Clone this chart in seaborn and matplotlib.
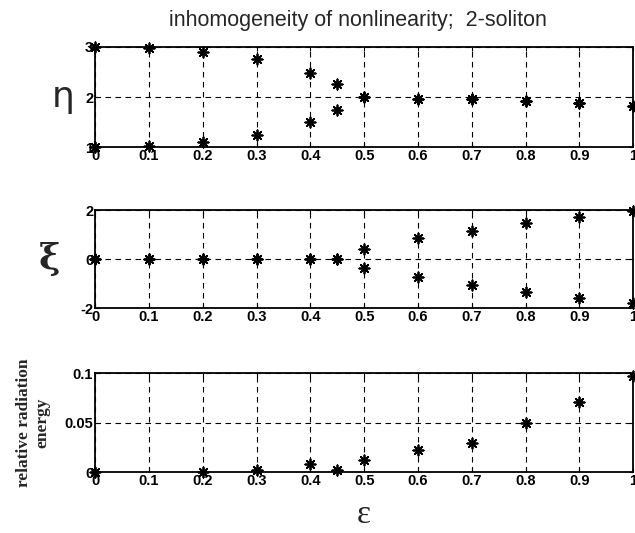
import numpy as np
import pandas as pd
import matplotlib
matplotlib.use("Agg")
import matplotlib.pyplot as plt
import seaborn as sns

# ---- data ----
eps = [0, 0.1, 0.2, 0.3, 0.4, 0.45, 0.5, 0.6, 0.7, 0.8, 0.9, 1.0]
eta_1 = [3.0, 2.98, 2.9, 2.75, 2.48, 2.25, 2.0, 1.97, 1.96, 1.92, 1.88, 1.83]
eta_2 = [1.0, 1.02, 1.1, 1.25, 1.5, 1.75, 2.0, 1.97, 1.96, 1.92, 1.88, 1.83]
xi_1 = [0, 0, 0, 0, 0, 0, 0.4, 0.85, 1.15, 1.45, 1.7, 1.95]
xi_2 = [0, 0, 0, 0, 0, 0, -0.35, -0.75, -1.05, -1.35, -1.6, -1.8]
eps_rad = [0, 0.2, 0.3, 0.4, 0.45, 0.5, 0.6, 0.7, 0.8, 0.9, 1.0]
rad = [0, 0, 0.002, 0.008, 0.002, 0.012, 0.022, 0.029, 0.05, 0.071, 0.097]

x_ticks = [0, 0.1, 0.2, 0.3, 0.4, 0.5, 0.6, 0.7, 0.8, 0.9, 1.0]
x_ticklabels = ["0", "0.1", "0.2", "0.3", "0.4", "0.5", "0.6", "0.7", "0.8", "0.9", "1"]

title = "inhomogeneity of nonlinearity;  2-soliton"

sns.set_style("white")
plt.rcParams['font.family'] = ['Liberation Sans', 'DejaVu Sans']

fig = plt.figure(figsize=(6.35, 5.33), dpi=100)
L, W = 0.150, 0.847
ax1 = fig.add_axes([L, 0.724, W, 0.188])
ax2 = fig.add_axes([L, 0.422, W, 0.184])
ax3 = fig.add_axes([L, 0.114, W, 0.186])

mk = (8, 2, 0)
kw = dict(marker=mk, color="black", s=55, linewidth=1.3, legend=False, zorder=5, clip_on=False)

df1 = pd.DataFrame({"eps": eps * 2, "val": eta_1 + eta_2})
df2 = pd.DataFrame({"eps": eps * 2, "val": xi_1 + xi_2})
df3 = pd.DataFrame({"eps": eps_rad, "val": rad})

sns.scatterplot(data=df1, x="eps", y="val", ax=ax1, **kw)
sns.scatterplot(data=df2, x="eps", y="val", ax=ax2, **kw)
sns.scatterplot(data=df3, x="eps", y="val", ax=ax3, **kw)

ylims = [(1, 3), (-2, 2), (0, 0.1)]
yticks = [[1, 2, 3], [-2, 0, 2], [0, 0.05, 0.1]]
yticklabels = [["1", "2", "3"], ["-2", "0", "2"], ["0", "0.05", "0.1"]]

for ax, yl, yt, ytl in zip([ax1, ax2, ax3], ylims, yticks, yticklabels):
    ax.set_xlim(0, 1)
    ax.set_ylim(*yl)
    ax.set_xticks(x_ticks)
    ax.set_xticklabels(x_ticklabels)
    ax.set_yticks(yt)
    ax.set_yticklabels(ytl)
    ax.grid(True, color="black", linestyle=(0, (5, 4)), linewidth=0.8)
    ax.set_axisbelow(True)
    for s in ax.spines.values():
        s.set_color("black")
        s.set_linewidth(1.3)
    ax.tick_params(direction="in", length=3, width=0.8, pad=1.5, labelsize=10.5,
                   colors="black", top=True, right=True, bottom=True, left=True)
    for lab in ax.get_xticklabels() + ax.get_yticklabels():
        lab.set_fontweight("bold")
    ax.set_xlabel("")
    ax.set_ylabel("")

ax1.set_ylabel("η", fontsize=26, rotation=0, family="DejaVu Sans", labelpad=16, va="center")
ax2.set_ylabel("ξ", fontsize=26, rotation=0, family="DejaVu Serif", fontweight="bold",
               labelpad=22, va="center")
ax3.set_ylabel("relative radiation\nenergy", fontsize=12.5, family="Liberation Serif",
               fontweight="bold", labelpad=10)
ax3.set_xlabel("ε", fontsize=24, family="Liberation Serif", labelpad=8)

fig.text(0.563, 0.962, title, ha="center", va="center", fontsize=15.5)

fig.savefig("out.png", dpi=100)
